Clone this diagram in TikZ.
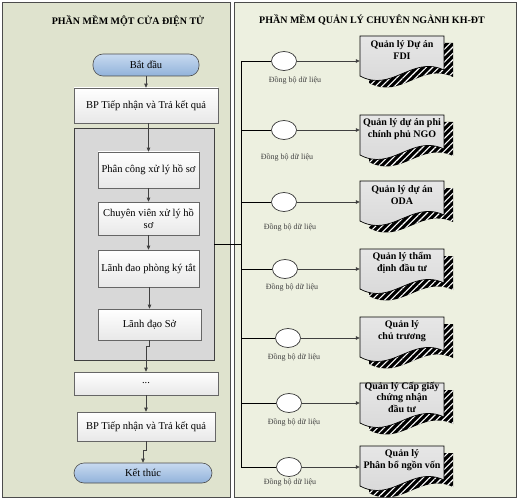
\documentclass[tikz,border=0pt]{standalone}
\usepackage{fontspec}
\setmainfont{Liberation Serif}
\usetikzlibrary{arrows.meta,shapes.geometric,patterns.meta,positioning}
\definecolor{panelleft}{RGB}{223,227,206}
\definecolor{panelright}{RGB}{237,240,224}
\definecolor{groupgray}{RGB}{216,216,216}
\definecolor{termtop}{RGB}{200,218,240}
\definecolor{termbot}{RGB}{145,178,218}
\definecolor{docgray}{RGB}{214,214,214}
\tikzset{
  panel/.style={draw=black!70,line width=0.8pt},
  paneltitle/.style={font=\fontsize{10}{12}\selectfont\bfseries},
  flowbox/.style={shape=rectangle,draw=black!60,line width=0.6pt,top color=white,bottom color=black!9,font=\fontsize{10.5}{12.5}\selectfont,align=center},
  termbox/.style={shape=rectangle,rounded corners=10pt,draw=black!70,line width=0.6pt,top color=termtop,bottom color=termbot,font=\fontsize{10.5}{12.5}\selectfont},
  groupbox/.style={shape=rectangle,draw=black!75,line width=0.8pt,fill=groupgray},
  flow/.style={draw=black!75,line width=0.7pt,-{Triangle[length=4pt,width=3.5pt]}},
  busline/.style={draw=black,line width=0.7pt},
  syncnode/.style={shape=ellipse,draw=black!80,line width=0.7pt,fill=white,minimum width=25pt,minimum height=19pt,inner sep=0pt},
  synclabel/.style={font=\fontsize{8}{9}\selectfont,text=black!75},
  doctext/.style={font=\fontsize{10}{11.5}\selectfont\bfseries,align=center,minimum width=84pt,inner sep=0pt},
  docshadow/.style={preaction={fill=black},pattern={Lines[angle=45,distance=4.5pt,line width=1.1pt]},pattern color=white},
  pics/wavedoc/.style={code={
    \path[docshadow,shift={(9,7)}] (-42,-21) -- (42,-21) -- (42,13) .. controls (10,-2) and (-10,36) .. (-42,19) -- cycle;
    \path[draw=black,line width=0.7pt,top color=docgray!60,bottom color=docgray] (-42,-21) -- (42,-21) -- (42,13) .. controls (10,-2) and (-10,36) .. (-42,19) -- cycle;
    \node[doctext] (-box) at (0,-7) {#1};
  }}
}
\begin{document}
\begin{tikzpicture}[x=1pt,y=-1pt]
\useasboundingbox (0,0) rectangle (522,500);
\draw[panel,fill=panelleft] (2,2) rectangle (230,497);
\draw[panel,fill=panelright] (234,2) rectangle (516,497);
\node[paneltitle] (lefttitle) at (128,21) {PHẦN MỀM MỘT CỬA ĐIỆN TỬ};
\node[paneltitle] (righttitle) at (372,20) {PHẦN MỀM QUẢN LÝ CHUYÊN NGÀNH KH-ĐT};

\node[groupbox,minimum width=140pt,minimum height=232pt] (grp) at (144,244) {};
\node[termbox,minimum width=106pt,minimum height=22pt] (start) at (146,65) {Bắt đầu};
\node[flowbox,minimum width=144pt,minimum height=35pt] (bp1) at (146,105.5) {BP Tiếp nhận và Trả kết quả};
\node[flowbox,minimum width=101pt,minimum height=36pt] (pc) at (148.5,170) {Phân công xử lý hồ sơ};
\node[flowbox,minimum width=101pt,minimum height=33pt] (cv) at (148.5,218.5) {Chuyên viên xử lý hồ\\sơ};
\node[flowbox,minimum width=101pt,minimum height=37pt] (ldp) at (148.5,268.5) {Lãnh đao phòng ký tắt};
\node[flowbox,minimum width=103pt,minimum height=31pt] (lds) at (149.5,324.5) {Lãnh đạo Sở};
\node[flowbox,minimum width=144pt,minimum height=23pt] (dots) at (146,383.5) {...};
\node[flowbox,minimum width=138pt,minimum height=29pt] (bp2) at (146,426.5) {BP Tiếp nhận và Trả kết quả};
\node[termbox,minimum width=138pt,minimum height=20pt] (end) at (143,473) {Kết thúc};

\draw[flow] (start) -- (bp1);
\draw[flow] (pc.north |- bp1.south) -- (pc.north);
\draw[flow] (pc) -- (cv);
\draw[flow] (cv) -- (ldp);
\draw[flow] (ldp.south -| lds.north) -- (lds.north);
\draw[flow] (lds.south) -- ++(0,6) -| (dots.north);
\draw[flow] (dots) -- (bp2);
\draw[flow] (bp2.south) -- ++(0,9) -| (end.north);

\node[syncnode] (c1) at (284,61) {};
\node[syncnode] (c2) at (284,130) {};
\node[syncnode] (c3) at (284,202) {};
\node[syncnode] (c4) at (285,269) {};
\node[syncnode] (c5) at (288,338) {};
\node[syncnode] (c6) at (289,403) {};
\node[syncnode] (c7) at (289,467) {};
\node[synclabel] (l1) at (295,80) {Đồng bộ dữ liệu};
\node[synclabel] (l2) at (287,157) {Đồng bộ dữ liệu};
\node[synclabel] (l3) at (290,227) {Đồng bộ dữ liệu};
\node[synclabel] (l4) at (292,287) {Đồng bộ dữ liệu};
\node[synclabel] (l5) at (294,357) {Đồng bộ dữ liệu};
\node[synclabel] (l6) at (294,422) {Đồng bộ dữ liệu};
\node[synclabel] (l7) at (290,482) {Đồng bộ dữ liệu};

\pic (d1) at (402,57) {wavedoc={Quản lý Dự án\\FDI}};
\pic (d2) at (402,136) {wavedoc={Quản lý dự án phi\\chính phủ NGO}};
\pic (d3) at (402,202) {wavedoc={Quản lý dự án\\ODA}};
\pic (d4) at (402,270) {wavedoc={Quản lý thẩm\\định đầu tư}};
\pic (d5) at (402,338) {wavedoc={Quản lý\\chủ trương}};
\pic (d6) at (402,404) {wavedoc={Quản lý Cấp giấy\\chứng nhận\\đầu tư}};
\pic (d7) at (402,467) {wavedoc={Quản lý\\Phân bổ ngồn vốn}};

\coordinate (bus) at (241,244);
\draw[busline] (grp.east) -- (bus);
\draw[busline] (bus |- c1) -- (bus |- c7);
\draw[busline] (bus |- c1) -- (c1);
\draw[busline] (bus |- c2) -- (c2);
\draw[busline] (bus |- c3) -- (c3);
\draw[busline] (bus |- c4) -- (c4);
\draw[busline] (bus |- c5) -- (c5);
\draw[busline] (bus |- c6) -- (c6);
\draw[busline] (bus |- c7) -- (c7);
\draw[flow] (c1) -- (c1 -| d1-box.west);
\draw[flow] (c2) -- (c2 -| d2-box.west);
\draw[flow] (c3) -- (c3 -| d3-box.west);
\draw[flow] (c4) -- (c4 -| d4-box.west);
\draw[flow] (c5) -- (c5 -| d5-box.west);
\draw[flow] (c6) -- (c6 -| d6-box.west);
\draw[flow] (c7) -- (c7 -| d7-box.west);
\end{tikzpicture}
\end{document}
